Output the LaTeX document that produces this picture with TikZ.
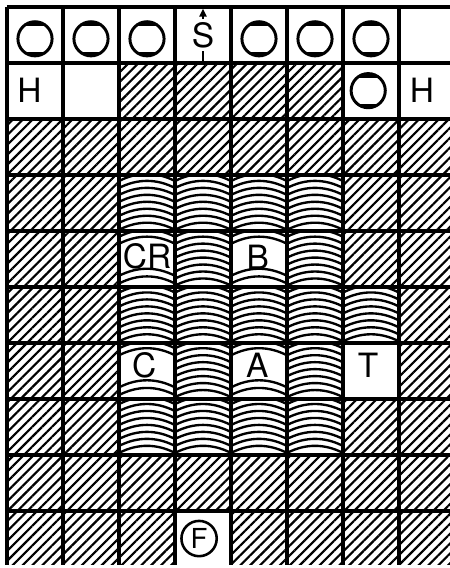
\documentclass[tikz,border=0pt]{standalone}
\usepackage{fontspec}
\setsansfont{TeX Gyre Heros}
\usetikzlibrary{patterns.meta,arrows.meta}

\tikzset{
	hatched/.style={pattern={Lines[angle=45,distance=0.125cm,line width=1.1pt]}},
	cellline/.style={line width=1.6pt},
	swell/.style={line width=1.2pt},
	letter/.style={font=\sffamily\fontsize{17}{17}\selectfont,inner sep=0pt},
	wheel/.style={circle,draw,line width=1.5pt,minimum size=0.61cm,inner sep=0pt,
		path picture={
			\fill ([yshift=-0.07cm]path picture bounding box.north west) rectangle (path picture bounding box.north east);
			\fill (path picture bounding box.south west) rectangle ([yshift=0.07cm]path picture bounding box.south east);
		}},
}

% one square of curved lines, column #1, row #2, arc numbers #3
\newcommand{\swellcell}[3]{%
	\begin{scope}
		\clip (#1-1,1-#2) rectangle (#1,-#2);
		\foreach \k in {#3}
			\draw[swell] (#1-1,0.88-#2-0.125*\k) .. controls +(0.33,0.17) and +(-0.33,0.17) .. (#1,0.88-#2-0.125*\k);
	\end{scope}}

\begin{document}
\begin{tikzpicture}[x=1cm,y=0.996cm]
	\useasboundingbox (-0.125,0.1255) rectangle (7.893,-10.058);
	% hatched squares
	\fill[hatched] (2,-1) rectangle (6,-2);
	\fill[hatched] (0,-2) rectangle (8,-10);
	\fill[white] (2,-3) rectangle (6,-8);
	\fill[white] (6,-5) rectangle (7,-7);
	\fill[white] (3,-9) rectangle (4,-10);
	% curved squares
	\foreach \c/\r in {3/4,4/4,5/4,6/4,4/5,6/5,3/6,4/6,5/6,6/6,7/6,4/7,6/7,3/8,4/8,5/8,6/8}
		\swellcell{\c}{\r}{0,...,7};
	\foreach \c/\r in {3/5,5/5,3/7,5/7}
		\swellcell{\c}{\r}{0,1,5.6,6.7};
	\draw[cellline] (0,0) grid (8,-10);

	% top rows
	\foreach \c in {1,2,3,5,6,7}
		\node[wheel] (w\c) at (\c-0.5,-0.57) {};
	\node[wheel] (w8) at (6.45,-1.5) {};
	\node[letter] (s) at (3.5,-0.5) {S};
	\coordinate (stop) at (3.5,-0.03);
	\coordinate (sbot) at (3.5,-1);
	\draw[line width=1pt,-{Triangle[length=4pt,width=3.6pt]},shorten <=1.5pt] (s.north) -- (stop);
	\draw[line width=1pt,shorten <=1.5pt] (s.south) -- (sbot);
	\node[letter] (h1) at (0.4,-1.5) {H};
	\node[letter] (h2) at (7.41,-1.5) {H};

	% lettered squares
	\node[letter] (cr) at (2.5,-4.47) {CR};
	\node[letter] (b) at (4.48,-4.48) {B};
	\node[letter] (c) at (2.45,-6.42) {C};
	\node[letter] (a) at (4.47,-6.42) {A};
	\node[letter] (t) at (6.45,-6.43) {T};
	\node[circle,draw,line width=1.3pt,minimum size=0.63cm,inner sep=0pt,font=\sffamily\fontsize{14}{14}\selectfont] (f) at (3.43,-9.53) {F};
\end{tikzpicture}
\end{document}
